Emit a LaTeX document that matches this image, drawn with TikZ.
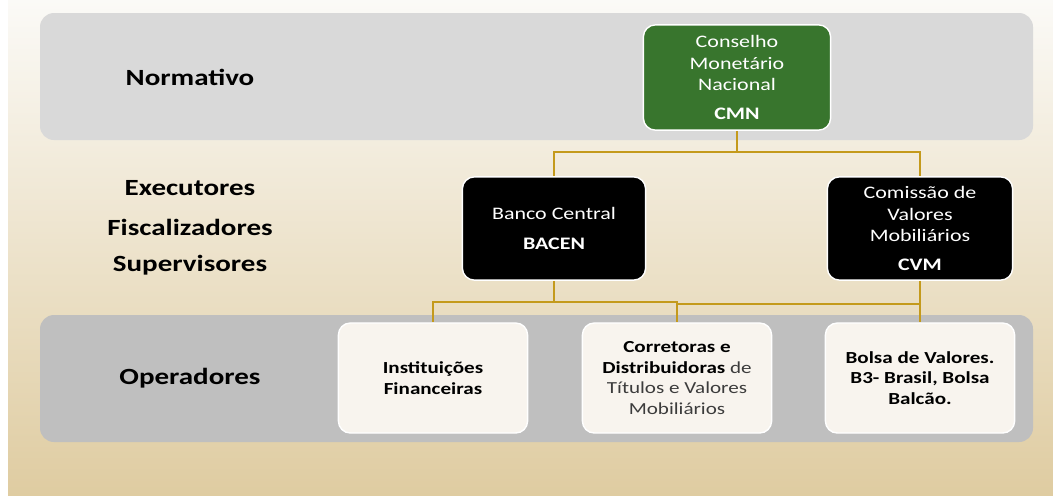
\documentclass[tikz,border=0pt]{standalone}
\usepackage{fontspec}
\setmainfont{Carlito}[FakeStretch=1.25]
\usepackage{tikz}
\usetikzlibrary{calc}

\definecolor{cmngreen}{HTML}{38752D}
\definecolor{linkgold}{HTML}{C49A1C}
\definecolor{toplayer}{HTML}{D9D9D9}
\definecolor{botlayer}{HTML}{BFBFBF}
\definecolor{opfill}{HTML}{F8F4EE}
\definecolor{bgtop}{HTML}{FBFAF7}
\definecolor{bgbottom}{HTML}{DFCCA1}
\definecolor{softtext}{HTML}{3C3C3C}

\begin{document}
\begin{tikzpicture}[x=0.025cm,y=-0.025cm,
    layer/.style={rounded corners=0.35cm},
    orgbox/.style={draw=white,line width=1pt,rounded corners=0.3cm,align=center,
        inner sep=0pt,text=white,font=\fontsize{12.5}{15.4}\selectfont},
    opbox/.style={draw=white,line width=1pt,fill=opfill,rounded corners=0.3cm,align=center,
        inner sep=0pt,minimum width=4.73cm,minimum height=2.75cm,
        font=\fontsize{12}{14.7}\selectfont},
    levellabel/.style={font=\fontsize{16.5}{20}\selectfont\bfseries,align=center},
    link/.style={draw=linkgold,line width=2pt}]
    \useasboundingbox (0,0) rectangle (1053,495);

    \shade[top color=bgtop,bottom color=bgbottom] (8,0) rectangle (1053,495);
    \fill[layer,toplayer] (40,13) rectangle (1033,140);
    \fill[layer,botlayer] (40,315) rectangle (1033,442);

    \node[levellabel] (normativo) at (190,77) {Normativo};
    \node[levellabel] (executores) at (190,188) {Executores};
    \node[levellabel] (fiscalizadores) at (190,227) {Fiscalizadores};
    \node[levellabel] (supervisores) at (190,265) {Supervisores};
    \node[levellabel] (operadores) at (190,378) {Operadores};

    \node[orgbox,fill=cmngreen,minimum width=4.68cm,minimum height=2.63cm] (cmn) at (737,77.5)
        {Conselho\\Monetário\\Nacional\\[5pt]\textbf{CMN}};
    \node[orgbox,fill=black,minimum width=4.58cm,minimum height=2.58cm] (bacen) at (554,228.5)
        {Banco Central\\[6pt]\textbf{BACEN}};
    \node[orgbox,fill=black,minimum width=4.63cm,minimum height=2.58cm] (cvm) at (920,228.5)
        {Comissão de\\Valores\\Mobiliários\\[5pt]\textbf{CVM}};

    \node[opbox] (inst) at (433,378) {\textbf{Instituições}\\\textbf{Financeiras}};
    \node[opbox] (corr) at (677,378) {\textbf{Corretoras e}\\\textbf{Distribuidoras} {\color{softtext}de}\\
        {\color{softtext}Títulos e Valores}\\{\color{softtext}Mobiliários}};
    \node[opbox] (bolsa) at (920,378) {\textbf{Bolsa de Valores.}\\\textbf{B3- Brasil, Bolsa}\\\textbf{Balcão.}};

    \coordinate (cmnjoint) at (737,152);
    \coordinate (bacenjoint) at (554,302);
    \coordinate (cvmjoint) at (920,304);

    \draw[link] (cmn.south) -- (cmnjoint) -| (bacen.north);
    \draw[link] (cmnjoint) -| (cvm.north);
    \draw[link] (bacen.south) -- (bacenjoint) -| (inst.north);
    \draw[link] (bacenjoint) -| (corr.north);
    \draw[link] (cvm.south) -- (bolsa.north);
    \draw[link] (cvmjoint) -| (corr.north);
\end{tikzpicture}
\end{document}
